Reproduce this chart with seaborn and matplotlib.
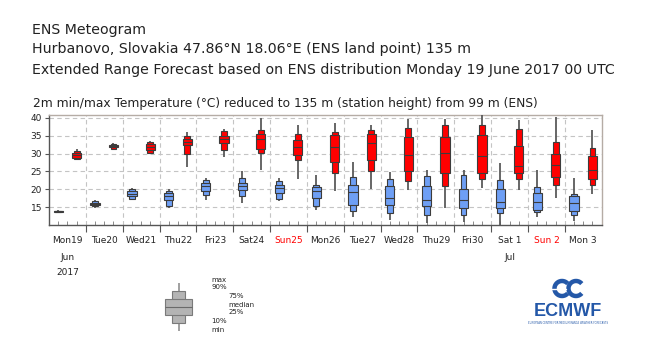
import numpy as np
import pandas as pd
import seaborn as sns
import matplotlib
matplotlib.use("Agg")
import matplotlib.pyplot as plt
from matplotlib.patches import Arc
from matplotlib.transforms import blended_transform_factory

# ---------------- data ----------------
day_labels = ["Mon19", "Tue20", "Wed21", "Thu22", "Fri23", "Sat24", "Sun25", "Mon26",
              "Tue27", "Wed28", "Thu29", "Fri30", "Sat 1", "Sun 2", "Mon 3"]
sunday_labels = ["Sun25", "Sun 2"]
month_labels = {"Mon19": ["Jun", "2017"], "Sat 1": ["Jul"]}

# order of each row: min, p10, p25, median, p75, p90, max
tmin_stats = [
    [13.5, 13.6, 13.7, 13.8, 13.9, 14.0, 14.1],
    [14.8, 15.2, 15.6, 16.0, 16.3, 16.6, 16.9],
    [17.0, 17.2, 18.2, 18.8, 19.6, 20.2, 20.5],
    [14.7, 15.2, 17.1, 18.0, 18.9, 19.6, 20.0],
    [16.9, 18.4, 19.6, 21.0, 21.9, 22.6, 23.1],
    [16.1, 18.0, 19.7, 20.8, 21.7, 23.1, 25.0],
    [16.6, 17.2, 18.9, 20.3, 21.3, 22.4, 23.1],
    [14.1, 15.2, 17.5, 19.4, 20.6, 21.3, 23.9],
    [12.2, 14.0, 15.7, 19.3, 21.3, 23.4, 27.6],
    [11.4, 13.4, 15.6, 17.6, 20.9, 23.0, 24.9],
    [10.5, 12.9, 15.3, 17.0, 20.9, 23.7, 25.5],
    [10.8, 12.9, 14.8, 17.0, 20.1, 24.1, 25.5],
    [10.0, 13.4, 14.8, 16.4, 20.2, 22.6, 27.4],
    [12.2, 13.7, 14.2, 16.4, 19.0, 20.7, 25.4],
    [11.1, 12.8, 13.9, 16.2, 18.2, 18.7, 23.2],
]
tmax_stats = [
    [28.2, 28.5, 28.9, 29.5, 30.2, 30.8, 31.2],
    [31.0, 31.4, 31.8, 32.2, 32.5, 32.8, 33.1],
    [29.8, 30.3, 31.0, 31.8, 32.6, 33.3, 33.6],
    [26.2, 29.9, 32.3, 33.2, 34.1, 34.8, 36.0],
    [29.0, 31.0, 32.9, 34.1, 35.0, 36.4, 36.8],
    [25.4, 30.1, 31.2, 34.0, 35.5, 36.5, 39.9],
    [22.9, 28.1, 29.5, 31.8, 33.8, 35.6, 38.0],
    [19.6, 24.6, 27.6, 31.9, 35.1, 36.1, 38.6],
    [20.1, 25.1, 28.3, 32.9, 35.5, 36.7, 38.1],
    [19.9, 22.3, 25.1, 29.6, 34.6, 37.2, 39.7],
    [14.9, 21.0, 24.6, 30.1, 34.7, 38.0, 39.7],
    [20.5, 23.0, 24.7, 29.3, 35.1, 37.9, 41.0],
    [19.7, 22.8, 24.5, 26.6, 32.1, 36.8, 39.5],
    [17.6, 21.2, 23.4, 26.8, 29.9, 33.2, 40.3],
    [18.8, 21.3, 23.0, 25.5, 29.3, 31.6, 36.7],
]
legend_stats = [0, 1.6, 3.3, 5.0, 6.6, 8.3, 10]
legend_texts = [("max", 0), ("90%", 0), ("75%", 1), ("median", 1), ("25%", 1), ("10%", 0), ("min", 0)]

cols = ["min", "p10", "p25", "med", "p75", "p90", "max"]
df_min = pd.DataFrame(tmin_stats, columns=cols)
df_min["x"] = np.arange(len(day_labels)) + 0.25
df_max = pd.DataFrame(tmax_stats, columns=cols)
df_max["x"] = np.arange(len(day_labels)) + 0.75

# ---------------- style ----------------
sns.set_theme(style="white")
plt.rcParams["font.family"] = ["DejaVu Sans"]
TXT = "#222222"

fig = plt.figure(figsize=(6.5, 3.5), dpi=100)
W, H = 650, 350
ax = fig.add_axes([49 / W, 1 - 225 / H, (601.7 - 49) / W, (225 - 115) / H])

EDGE = "#3c3c3c"
WHISK = "#5a5a5a"


def draw_boxes(a, df, color, w_in, w_out, lw=0.8):
    a.vlines(df["x"], df["min"], df["max"], color=WHISK, lw=1.3, zorder=3)
    a.bar(df["x"], df["p90"] - df["p10"], bottom=df["p10"], width=w_out,
          color=color, edgecolor=EDGE, linewidth=lw, zorder=4)
    a.bar(df["x"], df["p75"] - df["p25"], bottom=df["p25"], width=w_in,
          color=color, edgecolor=EDGE, linewidth=lw, zorder=5)
    a.hlines(df["med"], df["x"] - w_in / 2, df["x"] + w_in / 2, color=EDGE, lw=lw, zorder=6)


draw_boxes(ax, df_min, "#6e9ff5", 0.25, 0.16)
draw_boxes(ax, df_max, "#ff0000", 0.25, 0.16)

ax.set_xlim(0, len(day_labels))
ax.set_ylim(10, 40.8)
ax.set_yticks([15, 20, 25, 30, 35, 40])
ax.set_xticks(np.arange(1, len(day_labels)))
ax.set_xticks(np.arange(0, len(day_labels) + 0.01, 0.25), minor=True)
ax.set_xticklabels([])
ax.grid(True, which="major", axis="both", color="#c4c4c4", linestyle=(0, (4, 3)), linewidth=0.8)
ax.tick_params(axis="y", which="major", left=True, length=3, width=0.8, color="#555555",
               labelsize=6.5, labelcolor=TXT, pad=2)
ax.tick_params(axis="x", which="major", bottom=True, direction="out", length=5, width=0.8,
               color="#555555")
ax.tick_params(axis="x", which="minor", bottom=True, direction="in", length=3, width=0.6,
               color="#777777")
for s in ["left", "bottom"]:
    ax.spines[s].set_color("#555555")
    ax.spines[s].set_linewidth(1.0)
for s in ["top", "right"]:
    ax.spines[s].set_color("#b5aca5")
    ax.spines[s].set_linewidth(1.0)

trans = blended_transform_factory(ax.transData, ax.transAxes)
for i, lab in enumerate(day_labels):
    c = "#ff0000" if lab in sunday_labels else TXT
    ax.annotate(lab, xy=(i + 0.5, 0), xycoords=trans, xytext=(0, -11.5),
                textcoords="offset points", ha="center", va="center",
                fontsize=6.5, color=c)
    for k, extra in enumerate(month_labels.get(lab, [])):
        ax.annotate(extra, xy=(i + 0.5, 0), xycoords=trans, xytext=(0, -23.5 - 11 * k),
                    textcoords="offset points", ha="center", va="center",
                    fontsize=6.5, color=TXT)

# ---------------- titles ----------------
fig.text(32 / W, 1 - 30 / H, "ENS Meteogram", fontsize=10.15, color=TXT, va="center")
fig.text(32 / W, 1 - 49 / H, "Hurbanovo, Slovakia 47.86°N 18.06°E (ENS land point) 135 m",
         fontsize=10.15, color=TXT, va="center")
fig.text(32 / W, 1 - 70 / H,
         "Extended Range Forecast based on ENS distribution Monday 19 June 2017 00 UTC",
         fontsize=10.15, color=TXT, va="center")
fig.text(33 / W, 1 - 103 / H,
         "2m min/max Temperature (°C) reduced to 135 m (station height) from 99 m (ENS)",
         fontsize=8.85, color=TXT, va="center")

# ---------------- legend schematic ----------------
lax = fig.add_axes([160 / W, 1 - 332 / H, 37 / W, 50 / H])
ldf = pd.DataFrame([legend_stats], columns=cols)
ldf["x"] = [0.5]
lax.vlines(ldf["x"], ldf["min"], ldf["max"], color="#909090", lw=1.2, zorder=3)
lax.bar(ldf["x"], ldf["p90"] - ldf["p10"], bottom=ldf["p10"], width=0.37,
        color="#b4b4b4", edgecolor="#7a7a7a", linewidth=0.8, zorder=4)
lax.bar(ldf["x"], ldf["p75"] - ldf["p25"], bottom=ldf["p25"], width=0.72,
        color="#b4b4b4", edgecolor="#7a7a7a", linewidth=0.8, zorder=5)
lax.hlines(ldf["med"], 0.14, 0.86, color="#6a6a6a", lw=0.8, zorder=6)
lax.set_xlim(0, 1)
lax.set_ylim(-0.3, 10.2)
lax.axis("off")
label_y = [279.5, 286.7, 296.3, 304.7, 312.3, 320.7, 329.7]
for (t, col), yy in zip(legend_texts, label_y):
    xx = 211.7 if col == 0 else 228.3
    fig.text(xx / W, 1 - yy / H, t, fontsize=5, color=TXT, va="center")

# ---------------- ECMWF logo ----------------
BLUE = "#2458a8"
gax = fig.add_axes([550 / W, 1 - 299 / H, 40 / W, 21 / H])
gax.set_xlim(550, 590)
gax.set_ylim(299, 278)
gax.set_aspect("equal")
gax.axis("off")
gax.add_patch(Arc((562, 288.5), 15, 15, theta1=40, theta2=320, color=BLUE, lw=3.2))
gax.add_patch(Arc((576, 288.5), 15, 15, theta1=40, theta2=320, color=BLUE, lw=3.2))
gax.plot([552, 566], [288.5, 288.5], color="white", lw=1.0)
fig.text(568 / W, 1 - 312 / H, "ECMWF", fontsize=13, fontweight="bold",
         family=["Liberation Sans", "DejaVu Sans"], color=BLUE, ha="center", va="center")
fig.text(568 / W, 1 - 323.5 / H, "EUROPEAN CENTRE FOR MEDIUM-RANGE WEATHER FORECASTS",
         fontsize=1.8, color=BLUE, ha="center", va="center")

fig.savefig("out.png", dpi=100)
